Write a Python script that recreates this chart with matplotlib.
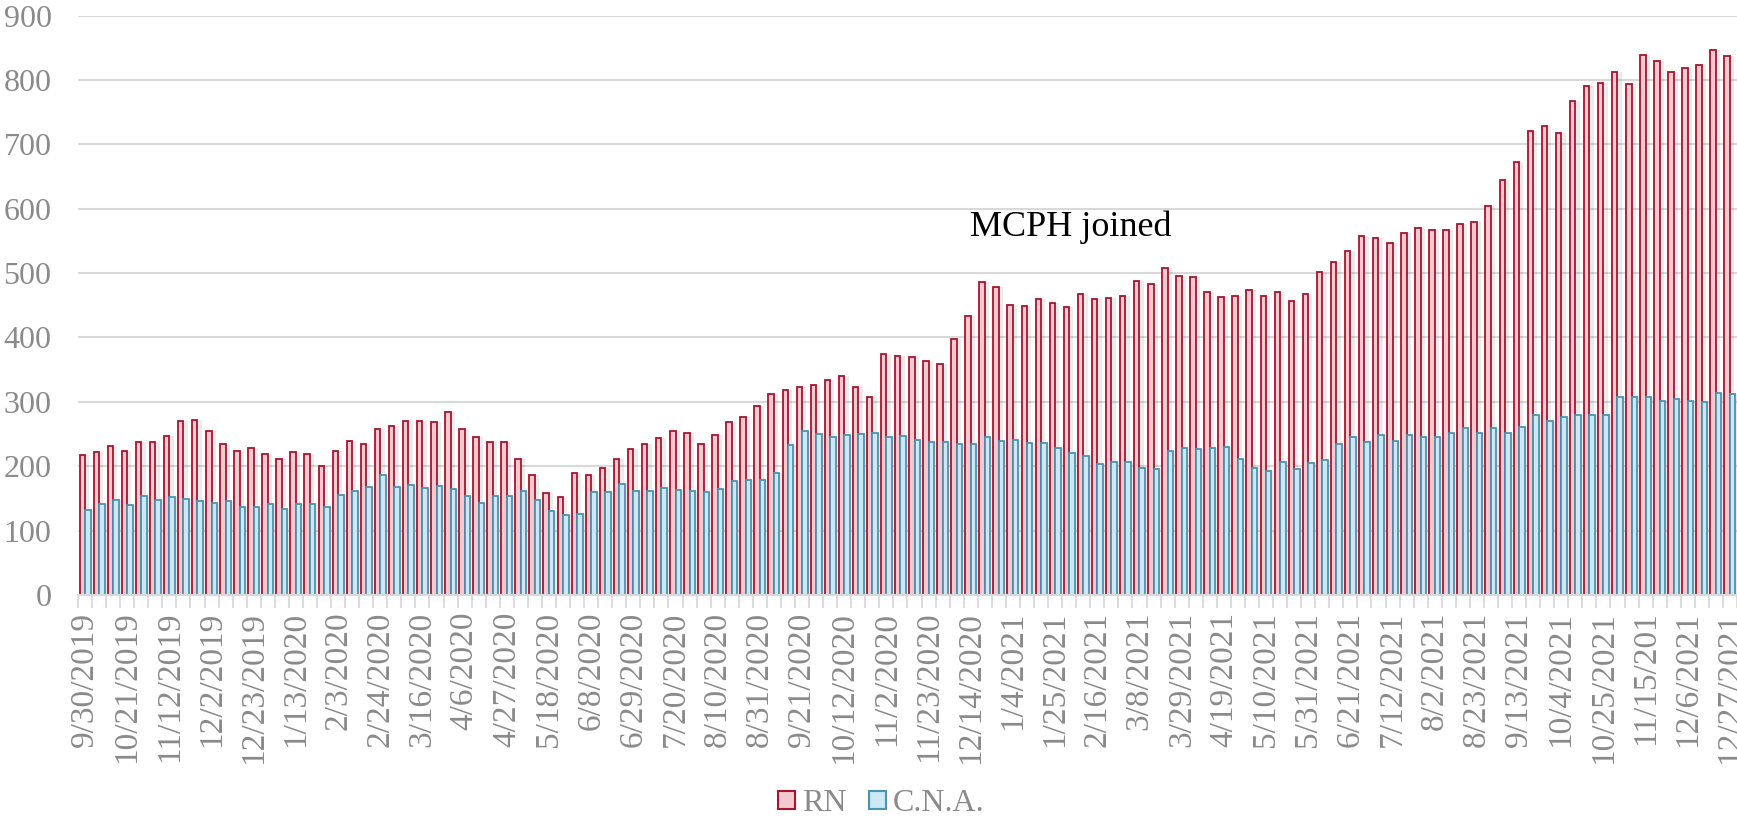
import numpy as np
import matplotlib.pyplot as plt
from matplotlib.patches import Patch

plt.rcParams["font.family"] = ["Liberation Serif", "DejaVu Serif"]

# weekly counts, 9/30/2019 .. 12/27/2021
rn = [218, 222, 232, 224, 238, 238, 247, 270, 272, 255, 234, 224, 228, 219, 212, 222, 219, 200,
      223, 239, 234, 258, 263, 270, 271, 269, 285,
      258, 245, 237, 237, 212, 187, 158, 152, 189, 186, 197, 211, 227, 234, 244, 254, 252, 235,
      249, 269, 276, 294, 312, 319, 323, 326, 334, 340,
      323, 307, 374, 371, 370, 364, 359, 398, 433, 486, 478, 451, 449, 459, 453, 447, 468, 459,
      462, 464, 488, 483, 508, 496, 494,
      471, 463, 464, 473, 464, 470, 456, 468, 502, 518, 534, 557, 554, 547, 563, 570, 567, 567,
      577, 579, 604, 645, 672, 721, 729, 718, 767, 790, 795, 812, 793, 839, 829, 813, 818, 823,
      846, 837]

cna = [132, 141, 147, 140, 153, 147, 152, 149, 146, 143, 146, 136, 136, 141, 134, 141, 142, 137,
       156, 162, 168, 187, 168, 171, 166, 169,
       165, 153, 143, 154, 154, 162, 148, 131, 124, 126, 160, 160, 172, 162, 162, 166, 163, 162,
       160, 165, 177, 179, 178, 190, 233, 255, 250, 245, 249,
       250, 251, 245, 247, 240, 237, 237, 234, 234, 245, 239, 240, 236, 236, 228, 220, 216, 203,
       206, 206, 197, 196, 223, 228, 226,
       228, 230, 211, 197, 192, 206, 196, 205, 210, 235, 246, 238, 249, 239, 249, 246, 245, 252,
       260, 252, 259, 251, 261, 280, 270, 276, 280, 279, 280, 307, 307, 307, 302, 304, 302, 300,
       313, 312]

tick_labels = ["9/30/2019", "10/21/2019", "11/12/2019", "12/2/2019", "12/23/2019", "1/13/2020",
               "2/3/2020", "2/24/2020", "3/16/2020", "4/6/2020", "4/27/2020", "5/18/2020",
               "6/8/2020", "6/29/2020", "7/20/2020", "8/10/2020", "8/31/2020", "9/21/2020",
               "10/12/2020", "11/2/2020", "11/23/2020", "12/14/2020", "1/4/2021", "1/25/2021",
               "2/16/2021", "3/8/2021", "3/29/2021", "4/19/2021", "5/10/2021", "5/31/2021",
               "6/21/2021", "7/12/2021", "8/2/2021", "8/23/2021", "9/13/2021", "10/4/2021",
               "10/25/2021", "11/15/201", "12/6/2021", "12/27/2021"]

rn_face, rn_edge = "#f3c9cf", "#a3172f"
cna_face, cna_edge = "#cde7f5", "#4e92b1"
grey = "#8a8a8a"

x = np.arange(len(rn))
w = 0.39

fig = plt.figure(figsize=(17.37, 8.21), dpi=100)
ax = fig.add_axes([0.0449, 0.2753, 0.9551, 0.7057])

# soft shadow behind the bars
ax.bar(x - w / 2 + 0.18, rn, w + 0.25, color="black", alpha=0.08, lw=0, zorder=1)
ax.bar(x + w / 2 + 0.18, cna, w + 0.25, color="black", alpha=0.08, lw=0, zorder=1)

ax.bar(x - w / 2, rn, w, facecolor=rn_face, edgecolor=rn_edge, lw=1.3, zorder=2)
ax.bar(x + w / 2, cna, w, facecolor=cna_face, edgecolor=cna_edge, lw=1.3, zorder=2)

ax.text(70.1, 571, "MCPH joined", ha="center", va="center", fontsize=26, color="black")

ax.set_xlim(-0.5, len(rn) - 0.5)
ax.set_ylim(0, 900)
ax.set_yticks(range(0, 901, 100))
ax.tick_params(axis="y", length=0, pad=19, labelsize=23, labelcolor=grey)
ax.yaxis.grid(True, color="#d9d9d9", lw=1.5)
ax.set_axisbelow(True)

ax.set_xticks(x[::3])
ax.set_xticklabels(tick_labels, rotation=90, va="top", ha="center")
ax.tick_params(axis="x", which="major", length=0, pad=12, labelsize=24, labelcolor=grey)
ax.set_xticks(np.arange(-0.5, len(rn), 1), minor=True)
ax.tick_params(axis="x", which="minor", length=9, width=1.3, color="#d9d9d9")

for s in ["top", "right", "left"]:
    ax.spines[s].set_visible(False)
ax.spines["bottom"].set_color("#d9d9d9")
ax.spines["bottom"].set_linewidth(1.5)

handles = [Patch(facecolor=rn_face, edgecolor=rn_edge, lw=1.5, label="RN"),
           Patch(facecolor=cna_face, edgecolor=cna_edge, lw=1.5, label="C.N.A.")]
fig.legend(handles=handles, loc="center", bbox_to_anchor=(0.5075, 0.021), ncol=2,
           frameon=False, fontsize=23, labelcolor=grey, handlelength=0.53, handleheight=0.53,
           handletextpad=0.22, columnspacing=0.7)

fig.savefig("out.png", dpi=100)
